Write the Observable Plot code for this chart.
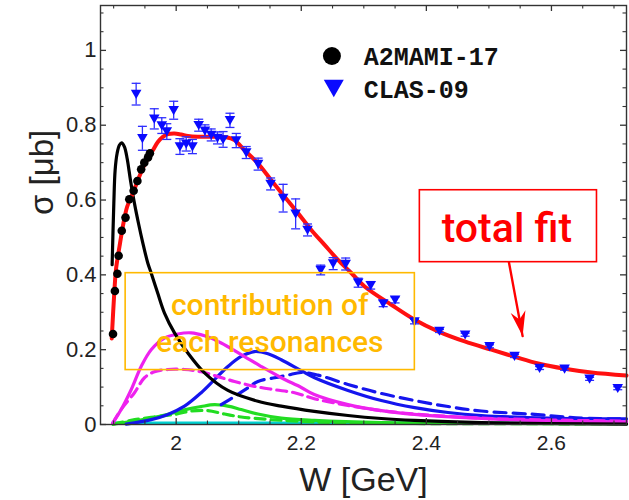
<!DOCTYPE html>
<html><head><meta charset="utf-8">
<script src="https://cdn.jsdelivr.net/npm/d3@7"></script>
<script src="https://cdn.jsdelivr.net/npm/@observablehq/plot@0.6"></script>
<style>
html,body{margin:0;padding:0;background:#fff;}
#chart{width:629px;height:500px;overflow:hidden;}
</style></head><body><div id="chart"></div>
<script>
// ---- data points ----
const a2mamiW = [1.899,1.902,1.906,1.908,1.913,1.919,1.925,1.932,1.938,1.944,1.949,1.955,1.958];
const a2mamiS = [0.242,0.357,0.403,0.451,0.518,0.553,0.602,0.625,0.651,0.682,0.700,0.714,0.725];

const clasW = [1.936,1.946,1.965,1.977,1.985,1.996,2.006,2.016,2.026,2.036,2.046,2.056,2.066,2.075,2.086,2.096,2.112,2.131,2.151,2.171,2.191,2.210,2.231,2.251,2.271,2.291,2.311,2.331,2.350,2.381,2.421,2.462,2.501,2.541,2.581,2.621,2.661,2.706];
const clasS = [0.883,0.765,0.817,0.799,0.783,0.840,0.743,0.750,0.743,0.800,0.785,0.774,0.766,0.762,0.813,0.759,0.727,0.696,0.643,0.605,0.563,0.520,0.413,0.430,0.429,0.379,0.372,0.323,0.333,0.275,0.250,0.240,0.209,0.183,0.151,0.149,0.122,0.097];
const clasE = [0.029,0.032,0.027,0.021,0.021,0.024,0.021,0.019,0.019,0.016,0.016,0.016,0.016,0.021,0.019,0.019,0.016,0.016,0.016,0.037,0.040,0.016,0.013,0.016,0.016,0.012,0.010,0.008,0.008,0.006,0.004,0.004,0.004,0.004,0.004,0.004,0.004,0.004];

// ---- fitted curves [W, sigma] ----
const totalFit = [[1.897,0.23],[1.9013,0.36],[1.904,0.418],[1.9093,0.475],[1.9147,0.529],[1.9216,0.582],[1.9307,0.618],[1.9387,0.653],[1.9467,0.685],[1.9547,0.711],[1.9627,0.733],[1.9707,0.755],[1.9787,0.769],[1.9867,0.776],[1.9973,0.778],[2.008,0.775],[2.0187,0.771],[2.0347,0.769],[2.0507,0.769],[2.08,0.768],[2.0933,0.76],[2.1093,0.733],[2.1307,0.698],[2.152,0.653],[2.1733,0.609],[2.1947,0.565],[2.216,0.52],[2.2373,0.48],[2.2587,0.44],[2.28,0.405],[2.3013,0.369],[2.344,0.32],[2.3813,0.28],[2.4187,0.249],[2.4613,0.222],[2.504,0.2],[2.5413,0.181],[2.5787,0.163],[2.6213,0.149],[2.664,0.139],[2.72,0.131]];
const resBlack = [[1.8976,0.427],[1.9003,0.591],[1.9024,0.68],[1.9056,0.725],[1.9093,0.747],[1.9131,0.753],[1.9173,0.742],[1.9216,0.711],[1.9269,0.653],[1.9333,0.591],[1.9397,0.538],[1.9467,0.485],[1.9547,0.431],[1.96,0.405],[1.9707,0.35],[1.9813,0.298],[1.9973,0.245],[2.0187,0.191],[2.0453,0.138],[2.0827,0.091],[2.1307,0.062],[2.168,0.049],[2.2208,0.035],[2.2747,0.024],[2.328,0.016],[2.3808,0.011],[2.488,0.005],[2.72,0.001]];
const resMagenta = [[1.8987,0.004],[1.912,0.04],[1.928,0.093],[1.944,0.155],[1.96,0.2],[1.9813,0.231],[2.0027,0.242],[2.024,0.245],[2.0453,0.237],[2.072,0.218],[2.104,0.187],[2.136,0.155],[2.168,0.125],[2.2,0.099],[2.2208,0.08],[2.2747,0.053],[2.328,0.037],[2.3808,0.027],[2.488,0.016],[2.6,0.009],[2.72,0.007]];
const resMagentaDash = [[1.8987,0.004],[1.912,0.04],[1.9333,0.085],[1.9493,0.125],[1.9653,0.141],[1.9867,0.147],[2.0133,0.147],[2.04,0.141],[2.0667,0.128],[2.0933,0.115],[2.1253,0.102],[2.1573,0.093],[2.1893,0.085],[2.2208,0.069],[2.2747,0.051],[2.328,0.037],[2.3808,0.028],[2.488,0.017],[2.6,0.012],[2.72,0.009]];
const resBlue = [[1.92,0.001],[1.96,0.013],[1.9867,0.027],[2.0133,0.049],[2.04,0.085],[2.0613,0.12],[2.0827,0.155],[2.104,0.182],[2.1253,0.195],[2.1467,0.189],[2.168,0.173],[2.2,0.144],[2.2213,0.125],[2.2747,0.091],[2.328,0.064],[2.3813,0.045],[2.4347,0.032],[2.488,0.024],[2.5947,0.017],[2.72,0.015]];
const resBlueDash = [[2.072,0.053],[2.0933,0.075],[2.1147,0.098],[2.1307,0.115],[2.1573,0.125],[2.1787,0.132],[2.2,0.139],[2.2267,0.132],[2.2747,0.107],[2.328,0.083],[2.3813,0.064],[2.4347,0.048],[2.488,0.036],[2.5733,0.027],[2.648,0.017],[2.72,0.015]];
const resGreen = [[1.899,0.001],[1.9333,0.009],[1.96,0.017],[1.9867,0.027],[2.0133,0.039],[2.04,0.048],[2.0613,0.053],[2.0827,0.049],[2.104,0.04],[2.1307,0.028],[2.168,0.017],[2.2208,0.011],[2.328,0.005],[2.488,0.003],[2.72,0.002]];
const resGreenDash = [[1.899,0.001],[1.928,0.011],[1.96,0.019],[1.9973,0.027],[2.024,0.036],[2.0507,0.037],[2.0773,0.028],[2.104,0.02],[2.152,0.013],[2.2208,0.007],[2.36,0.003],[2.72,0.002]];
const resCyan = [[1.898,0.004],[2.72,0.004]];

// ---- ticks ----
const xMajor = [2.0, 2.2, 2.4, 2.6];
const xLabels = ["2", "2.2", "2.4", "2.6"];
const xMinor = [1.9,1.95,2.05,2.1,2.15,2.25,2.3,2.35,2.45,2.5,2.55,2.65,2.7];
const yMajor = [0, 0.2, 0.4, 0.6, 0.8, 1.0];
const yLabels = ["0", "0.2", "0.4", "0.6", "0.8", "1"];
const yMinor = [0.05,0.1,0.15,0.25,0.3,0.35,0.45,0.5,0.55,0.65,0.7,0.75,0.85,0.9,0.95,1.05,1.1];

// ---- legend & annotations ----
const legendNames = ["A2MAMI-17", "CLAS-09"];
const legendMarkW = [2.249, 2.252];
const legendTextW = [2.300, 2.300];
const legendMarkS = [0.985, 0.8985];
const legendTextS = [0.960, 0.8737];
const redBox = {x1: 2.3896, x2: 2.6728, y1: 0.4339, y2: 0.6262};
const orangeBox = {x1: 1.9192, x2: 2.3816, y1: 0.1455, y2: 0.4045};
const redText = {W: 2.5288, s: 0.4873, t: "total fit"};
const orangeLines = [{W: 2.1496, s: 0.2924, t: "contribution of"}, {W: 2.1496, s: 0.1936, t: "each resonances"}];
const arrowPts = [{W: 2.532, s: 0.4339}, {W: 2.5539, s: 0.2363}];

// ---- tables ----
const a2mami = a2mamiW.map((w, i) => ({W: w, s: a2mamiS[i]}));
const clas = clasW.map((w, i) => ({W: w, s: clasS[i], e: clasE[i]}));
const toRows = arr => arr.map(([W, s]) => ({W, s}));

// ---- symbols ----
const triDown = {draw(c){ c.moveTo(-5.3,-4.3); c.lineTo(5.3,-4.3); c.lineTo(0,4.9); c.closePath(); }};
const triDownBig = {draw(c){ c.moveTo(-10,-8.5); c.lineTo(10,-8.5); c.lineTo(0,9); c.closePath(); }};
const capSym = {draw(c){ c.moveTo(-4.5,0); c.lineTo(4.5,0); }};
const headAngle = 169.5 * Math.PI / 180;
const headPts = [[0,0],[7.5,25],[0,17],[-7.5,25]].map(([x,y]) => [x*Math.cos(headAngle) - y*Math.sin(headAngle), x*Math.sin(headAngle) + y*Math.cos(headAngle)]);
const headSym = {draw(c){ c.moveTo(...headPts[0]); for (let i = 1; i < headPts.length; i++) c.lineTo(...headPts[i]); c.closePath(); }};

const W = 629, H = 500, mL = 100, mR = 3, mT = 5, mB = 76;
const frameW = W - mL - mR, frameH = H - mT - mB;

const line = (arr, stroke, opts = {}) => Plot.line(toRows(arr), {x: "W", y: "s", stroke, strokeWidth: 3.2, curve: "catmull-rom", ...opts});

const chart = Plot.plot({
  width: W, height: H,
  marginLeft: mL, marginRight: mR, marginTop: mT, marginBottom: mB,
  x: {domain: [1.879, 2.72]},
  y: {domain: [0, 1.12]},
  style: {fontFamily: "'Liberation Sans', Arial, sans-serif", background: "white", color: "#222"},
  marks: [
    // curves
    line(resCyan, "#00d0d0", {strokeWidth: 2.8}),
    line(resGreenDash, "#22dd22", {strokeDasharray: "10,6"}),
    line(resGreen, "#22dd22"),
    line(resBlueDash, "#1515ee", {strokeDasharray: "12,7"}),
    line(resBlue, "#1515ee"),
    line(resMagentaDash, "#ee22ee", {strokeDasharray: "10,6"}),
    line(resMagenta, "#ee22ee"),
    line(resBlack, "#000000"),
    line(totalFit, "#ff1010", {strokeWidth: 4}),
    // data
    Plot.ruleX(clas, {x: "W", y1: d => d.s - d.e, y2: d => d.s + d.e, stroke: "#2f2fff", strokeWidth: 1.3}),
    Plot.dot(clas, {x: "W", y: d => d.s - d.e, symbol: capSym, stroke: "#2f2fff", strokeWidth: 1.3, fill: "none"}),
    Plot.dot(clas, {x: "W", y: d => d.s + d.e, symbol: capSym, stroke: "#2f2fff", strokeWidth: 1.3, fill: "none"}),
    Plot.dot(clas, {x: "W", y: "s", symbol: triDown, fill: "#0a0aff", stroke: "none"}),
    Plot.dot(a2mami, {x: "W", y: "s", r: 4.3, fill: "#000", stroke: "none"}),
    // frame & ticks
    Plot.frame({stroke: "#333", strokeWidth: 1.4}),
    Plot.ruleX(xMajor, {x: d => d, insetTop: frameH - 6, stroke: "#333", strokeWidth: 1.3}),
    Plot.ruleX(xMajor, {x: d => d, insetBottom: frameH - 6, stroke: "#333", strokeWidth: 1.3}),
    Plot.ruleX(xMinor, {x: d => d, insetTop: frameH - 3.5, stroke: "#333", strokeWidth: 1.1}),
    Plot.ruleX(xMinor, {x: d => d, insetBottom: frameH - 3.5, stroke: "#333", strokeWidth: 1.1}),
    Plot.ruleY(yMajor, {y: d => d, insetRight: frameW - 6, stroke: "#333", strokeWidth: 1.3}),
    Plot.ruleY(yMajor, {y: d => d, insetLeft: frameW - 6, stroke: "#333", strokeWidth: 1.3}),
    Plot.ruleY(yMinor, {y: d => d, insetRight: frameW - 3.5, stroke: "#333", strokeWidth: 1.1}),
    Plot.ruleY(yMinor, {y: d => d, insetLeft: frameW - 3.5, stroke: "#333", strokeWidth: 1.1}),
    Plot.axisX({anchor: "bottom", ticks: xMajor, tickFormat: d => xLabels[xMajor.indexOf(d)], tickSize: 0, tickPadding: 11, fontSize: 21, label: null}),
    Plot.axisY({anchor: "left", ticks: yMajor, tickFormat: d => yLabels[yMajor.indexOf(d)], tickSize: 0, tickPadding: 4, fontSize: 22, label: null}),
    Plot.text(["W [GeV]"], {frameAnchor: "bottom", lineAnchor: "bottom", dy: 66, fontSize: 34, fill: "#222"}),
    Plot.text(["σ [μb]"], {frameAnchor: "left", rotate: -90, dx: -58, fontSize: 33, fill: "#222"}),
    // legend
    Plot.dot([0], {x: legendMarkW[0], y: legendMarkS[0], r: 9, fill: "#000"}),
    Plot.dot([0], {x: legendMarkW[1], y: legendMarkS[1], symbol: triDownBig, fill: "#0a0aff"}),
    Plot.text(legendNames, {x: (d, i) => legendTextW[i], y: (d, i) => legendTextS[i], text: d => d, textAnchor: "start", lineAnchor: "bottom", fontFamily: "'Liberation Mono', 'Courier New', monospace", fontWeight: "bold", fontSize: 25, fill: "#111"}),
    // annotations
    Plot.rect([redBox], {x1: "x1", x2: "x2", y1: "y1", y2: "y2", fill: "none", stroke: "#ff0000", strokeWidth: 1.6}),
    Plot.text([redText], {x: "W", y: "s", text: "t", lineAnchor: "bottom", fontFamily: "Roboto, sans-serif", fontWeight: 500, fontSize: 41, fill: "#ff0000"}),
    Plot.line(arrowPts, {x: "W", y: "s", stroke: "#ff0000", strokeWidth: 2.4}),
    Plot.dot([arrowPts[1]], {x: "W", y: "s", symbol: headSym, fill: "#ff0000", stroke: "none"}),
    Plot.rect([orangeBox], {x1: "x1", x2: "x2", y1: "y1", y2: "y2", fill: "none", stroke: "#ffb900", strokeWidth: 1.6}),
    Plot.text(orangeLines, {x: "W", y: "s", text: "t", lineAnchor: "bottom", fontFamily: "Roboto, sans-serif", fontWeight: 500, fontSize: 30, fill: "#ffb900"})
  ]
});
document.getElementById("chart").appendChild(chart);
</script></body></html>
